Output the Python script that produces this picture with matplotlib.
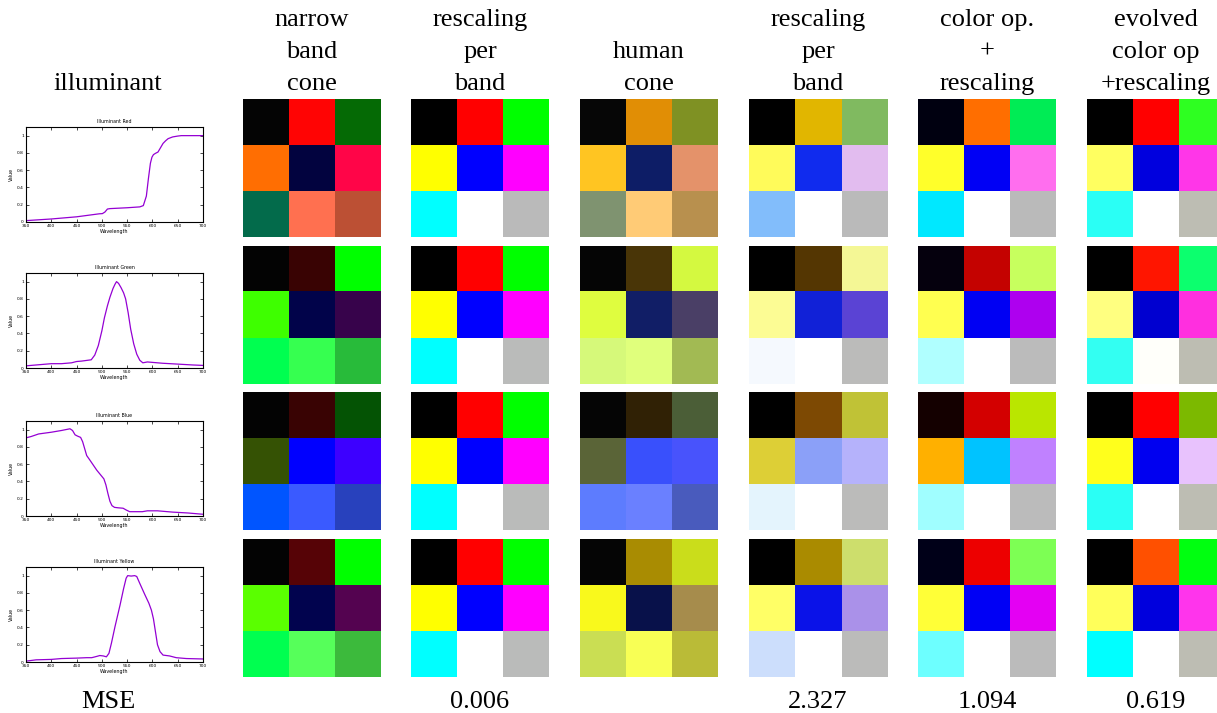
import numpy as np
import matplotlib
matplotlib.use("Agg")
import matplotlib.pyplot as plt
from matplotlib.colors import to_rgb

plt.rcParams['font.family'] = ['Liberation Serif', 'DejaVu Serif']

W, H = 1217, 713

# column headers (one entry per line of text)
headers = [
    ["narrow", "band", "cone"],
    ["rescaling", "per", "band"],
    ["", "human", "cone"],
    ["rescaling", "per", "band"],
    ["color op.", "+", "rescaling"],
    ["evolved", "color op", "+rescaling"],
]
mse_labels = ["", "0.006", "", "2.327", "1.094", "0.619"]

illuminant_names = ["Illuminant Red", "Illuminant Green", "Illuminant Blue", "Illuminant Yellow"]

# illuminant spectra (wavelength nm, relative value)
red_wl = [350, 400, 450, 495, 501, 506, 511, 516, 550, 575, 582, 588, 592, 596, 599, 602, 606, 611, 616, 621, 626, 631, 640, 650, 657, 670, 700]
red_val = [0.016, 0.035, 0.06, 0.095, 0.097, 0.115, 0.15, 0.155, 0.165, 0.175, 0.19, 0.3, 0.5, 0.68, 0.75, 0.78, 0.795, 0.81, 0.86, 0.91, 0.94, 0.965, 0.985, 0.995, 1.0, 1.0, 1.0]

green_wl = [350, 370, 400, 420, 440, 450, 460, 479, 486, 493, 500, 505, 511, 516, 522, 526, 529, 533, 538, 543, 547, 552, 557, 563, 569, 575, 581, 590, 600, 620, 650, 680, 700]
green_val = [0.025, 0.035, 0.05, 0.05, 0.06, 0.075, 0.08, 0.095, 0.15, 0.26, 0.43, 0.58, 0.72, 0.82, 0.92, 0.97, 1.0, 0.98, 0.93, 0.87, 0.8, 0.64, 0.45, 0.28, 0.16, 0.09, 0.06, 0.07, 0.065, 0.055, 0.045, 0.035, 0.03]

blue_wl = [350, 360, 375, 400, 420, 437, 442, 447, 452, 458, 462, 466, 470, 476, 483, 490, 497, 504, 508, 512, 516, 520, 525, 532, 542, 548, 555, 565, 580, 590, 610, 620, 640, 670, 700]
blue_val = [0.905, 0.92, 0.95, 0.97, 0.99, 1.01, 0.99, 0.94, 0.925, 0.91, 0.86, 0.78, 0.7, 0.65, 0.59, 0.53, 0.48, 0.43, 0.36, 0.26, 0.17, 0.12, 0.1, 0.095, 0.09, 0.07, 0.05, 0.05, 0.05, 0.06, 0.06, 0.055, 0.045, 0.035, 0.02]

yellow_wl = [350, 370, 400, 420, 450, 470, 480, 490, 496, 503, 509, 514, 519, 526, 536, 543, 548, 551, 558, 565, 569, 575, 585, 593, 598, 602, 606, 610, 615, 621, 634, 647, 667, 700]
yellow_val = [0.01, 0.025, 0.03, 0.04, 0.045, 0.05, 0.05, 0.065, 0.075, 0.07, 0.06, 0.1, 0.22, 0.41, 0.66, 0.85, 0.97, 1.0, 0.995, 1.0, 0.99, 0.91, 0.78, 0.68, 0.6, 0.5, 0.35, 0.2, 0.12, 0.08, 0.07, 0.05, 0.04, 0.035]

spectra = [(red_wl, red_val), (green_wl, green_val), (blue_wl, blue_val), (yellow_wl, yellow_val)]

# 3x3 patch colours, per illuminant row and method column
red_patches = [
    ["#040404", "#FF0404", "#056A05", "#FF6E02", "#02033F", "#FF0548", "#036B4B", "#FF7050", "#BC5034"],
    ["#000000", "#FF0000", "#00FF00", "#FFFF00", "#0000FF", "#FF00FF", "#00FFFF", "#FFFFFF", "#BABABA"],
    ["#060606", "#E18E05", "#7F9123", "#FFC522", "#0D1D66", "#E4926A", "#7F9370", "#FFCB76", "#B8904E"],
    ["#000000", "#E1B600", "#80BA60", "#FFFB5A", "#102BEE", "#E2BCEF", "#82BDFB", "#FFFFFF", "#BABABA"],
    ["#000010", "#FF6E00", "#00EC55", "#FFFF2A", "#0000F5", "#FF6EEE", "#00E8FF", "#FFFFFF", "#BABABA"],
    ["#000000", "#FF0000", "#2EFF21", "#FFFF60", "#0000DE", "#FF36E8", "#2AFFF5", "#FFFFFF", "#BDBDB3"],
]
green_patches = [
    ["#030303", "#390303", "#00FF00", "#3EFF00", "#01034A", "#37034B", "#00FF50", "#36FF50", "#28BB3A"],
    ["#000000", "#FF0000", "#00FF00", "#FFFF00", "#0000FF", "#FF00FF", "#00FFFF", "#FFFFFF", "#BABBBA"],
    ["#050505", "#493507", "#D4F940", "#DFFD3F", "#111E66", "#4A3F66", "#D6F97A", "#E0FF7C", "#A2BA53"],
    ["#000000", "#543602", "#F4F795", "#FCFC94", "#1121D7", "#5A43D4", "#F5F9FE", "#FFFFFF", "#BBBBBA"],
    ["#05000D", "#C40200", "#C7FF5E", "#FFFF50", "#0000F3", "#AE00EF", "#B0FFFF", "#FFFFFF", "#BBBBBB"],
    ["#000000", "#FF1500", "#0CFF6E", "#FFFF80", "#0000D0", "#FF2FDF", "#33FFF2", "#FFFFFA", "#BDBDB2"],
]
blue_patches = [
    ["#030303", "#390303", "#045304", "#355204", "#0000FF", "#3D00FF", "#0055FF", "#3A5AFF", "#2841BD"],
    ["#000000", "#FF0000", "#00FF00", "#FFFF00", "#0000FF", "#FF00FF", "#00FFFF", "#FFFFFF", "#BABBBA"],
    ["#050505", "#302105", "#4B5E37", "#5A6437", "#3950FC", "#4853FC", "#5D7CFE", "#6A80FF", "#495BBD"],
    ["#000000", "#7D4903", "#C0C236", "#DDCF36", "#8BA0F8", "#B5B2FB", "#E4F4FD", "#FFFFFF", "#BBBBBA"],
    ["#140000", "#D30000", "#BAE600", "#FFB000", "#00C3FF", "#C081FF", "#A0FEFF", "#FFFFFF", "#BBBBBB"],
    ["#000000", "#FF0000", "#7CB900", "#FFFF1C", "#0000F0", "#E8C2FD", "#2AFFF5", "#FFFFFF", "#BDBDB3"],
]
yellow_patches = [
    ["#030303", "#560306", "#00FF00", "#5AFF00", "#01034E", "#540350", "#00FF50", "#56FF5A", "#3CBA3C"],
    ["#000000", "#FF0000", "#00FF00", "#FFFF00", "#0000FF", "#FF00FF", "#00FFFF", "#FFFFFF", "#BABBBA"],
    ["#050505", "#A98C02", "#CADD1B", "#F9F91C", "#08114A", "#A68C4C", "#CADE53", "#F8FF55", "#BABB37"],
    ["#000000", "#AA8B00", "#CDDE6C", "#FFFF66", "#0A12E8", "#AA91E9", "#CCDEFC", "#FFFFFF", "#BBBBBA"],
    ["#000018", "#ED0000", "#7DFF54", "#FFFF37", "#0000F5", "#E400F3", "#6DFFFF", "#FFFFFF", "#BBBBBB"],
    ["#000000", "#FF5000", "#00FF10", "#FFFF5A", "#0000DD", "#FF34EC", "#00FFFF", "#FFFFFF", "#BDBDB3"],
]
patches = [red_patches, green_patches, blue_patches, yellow_patches]


def px_rect(x0, y0, w, h):
    # pixel box (top-left origin) -> figure fraction rect
    return [x0 / W, 1 - (y0 + h) / H, w / W, h / H]


fig = plt.figure(figsize=(W / 100, H / 100), dpi=100)

block_x = [243, 411, 580, 749, 918, 1087]
block_y = [99, 246, 392, 539]
block = 138
plot_top = [127, 273, 421, 567]

text_size = 19
for c, lines in enumerate(headers):
    cx = (block_x[c] + block / 2) / W
    for i, line in enumerate(lines):
        fig.text(cx, 1 - (26 + 32 * i) / H, line, ha='center', va='baseline', fontsize=text_size)
    if mse_labels[c]:
        fig.text(cx, 1 - 708 / H, mse_labels[c], ha='center', va='baseline', fontsize=text_size)
fig.text(108 / W, 1 - 90 / H, "illuminant", ha='center', va='baseline', fontsize=text_size)
fig.text(108 / W, 1 - 708 / H, "MSE", ha='center', va='baseline', fontsize=text_size)

for r in range(4):
    # small spectrum plot
    ax = fig.add_axes(px_rect(26, plot_top[r], 177, 95))
    wl, val = spectra[r]
    ax.plot(wl, val, color='#9400D3', lw=0.9)
    ax.set_xlim(350, 700)
    ax.set_ylim(0, 1.1)
    ax.set_xticks(np.arange(350, 701, 50))
    ax.set_yticks([0, 0.2, 0.4, 0.6, 0.8, 1])
    ax.set_yticklabels(['0', '0.2', '0.4', '0.6', '0.8', '1'])
    ax.tick_params(direction='in', length=2, width=0.5, labelsize=3.2, pad=1.5,
                   top=True, right=True)
    ax.set_title(illuminant_names[r], fontsize=3.4, family='DejaVu Sans', pad=3)
    ax.set_xlabel("Wavelength", fontsize=3.4, family='DejaVu Sans', labelpad=1)
    ax.set_ylabel("Value", fontsize=3.4, family='DejaVu Sans', labelpad=2)
    for lab in ax.get_xticklabels() + ax.get_yticklabels():
        lab.set_family('DejaVu Sans')
    for s in ax.spines.values():
        s.set_linewidth(0.8)

    # patch grids
    for c in range(6):
        rgb = np.array([to_rgb(h) for h in patches[r][c]]).reshape(3, 3, 3)
        bx = fig.add_axes(px_rect(block_x[c], block_y[r], block, block))
        bx.imshow(rgb, interpolation='nearest', aspect='auto')
        bx.axis('off')

fig.savefig("out.png", dpi=100)
